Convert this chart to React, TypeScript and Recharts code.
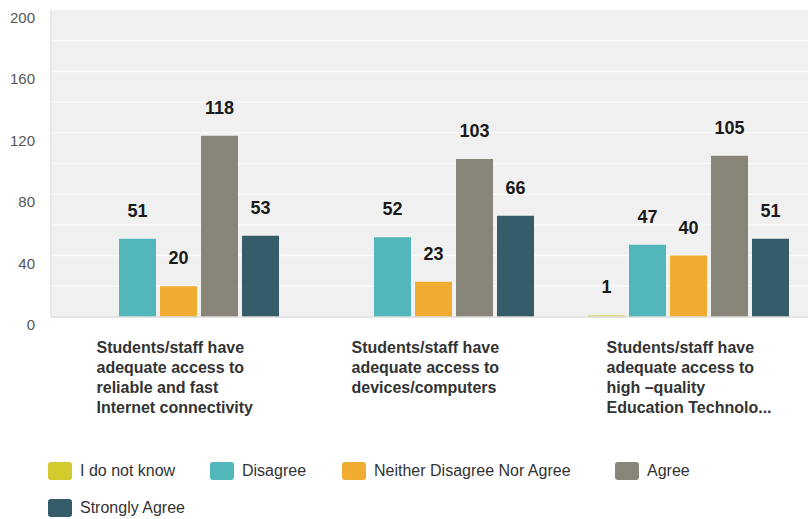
import React from "react";
import { Bar, BarChart, CartesianGrid, LabelList, XAxis, YAxis } from "recharts";

const categories = [
  "Students/staff have adequate access to reliable and fast Internet connectivity",
  "Students/staff have adequate access to devices/computers",
  "Students/staff have adequate access to high \u2013quality Education Technolo...",
];

// wrapped lines for the category labels, as they appear in the chart
const categoryLines = [
  ["Students/staff have", "adequate access to", "reliable and fast", "Internet connectivity"],
  ["Students/staff have", "adequate access to", "devices/computers"],
  ["Students/staff have", "adequate access to", "high \u2013quality", "Education Technolo..."],
];

const doNotKnow = [0, 0, 1];
const disagree = [51, 52, 47];
const neither = [20, 23, 40];
const agree = [118, 103, 105];
const stronglyAgree = [53, 66, 51];

const yTicks = [0, 20, 40, 60, 80, 100, 120, 140, 160, 180, 200];

const series = [
  { key: "doNotKnow", name: "I do not know", color: "#d2ca2c" },
  { key: "disagree", name: "Disagree", color: "#52b7bb" },
  { key: "neither", name: "Neither Disagree Nor Agree", color: "#efac30" },
  { key: "agree", name: "Agree", color: "#878577" },
  { key: "stronglyAgree", name: "Strongly Agree", color: "#345c69" },
];

const data = categories.map((name, i) => ({
  name,
  doNotKnow: doNotKnow[i],
  disagree: disagree[i],
  neither: neither[i],
  agree: agree[i],
  stronglyAgree: stronglyAgree[i],
}));

const FONT = "Liberation Sans, Arial, sans-serif";

const CategoryTick = (props: any) => {
  const { x, y, index } = props;
  const lines = categoryLines[index] || [];
  return (
    <text
      x={x - 82}
      y={y + 28}
      textAnchor="start"
      fill="#333"
      fontSize={16}
      fontWeight="bold"
      fontFamily={FONT}
    >
      {lines.map((line: string, i: number) => (
        <tspan key={i} x={x - 82} dy={i === 0 ? 0 : 20}>
          {line}
        </tspan>
      ))}
    </text>
  );
};

const ValueTick = (props: any) => {
  const { x, y, payload } = props;
  if (payload.value % 40 !== 0) return null;
  return (
    <text x={x - 8} y={y + 13} textAnchor="end" fill="#555" fontSize={15} fontFamily={FONT}>
      {payload.value}
    </text>
  );
};

const legendLefts = [48, 210, 342, 615, 48];

export default function App() {
  return (
    <div
      style={{
        position: "absolute",
        left: 0,
        top: 0,
        width: 808,
        height: 519,
        overflow: "hidden",
        background: "#fff",
        fontFamily: FONT,
      }}
    >
      <BarChart
        width={816}
        height={440}
        data={data}
        margin={{ top: 10, right: 0, left: 0, bottom: 0 }}
        barCategoryGap={27}
        barGap={4}
      >
        <CartesianGrid vertical={false} fill="#f0f0f0" stroke="#fafafa" strokeWidth={1.5} />
        <XAxis
          dataKey="name"
          height={123}
          tickLine={false}
          axisLine={{ stroke: "#dcdcdc", strokeWidth: 1.5 }}
          interval={0}
          tick={<CategoryTick />}
        />
        <YAxis
          width={51}
          domain={[0, 200]}
          ticks={yTicks}
          tickLine={false}
          axisLine={{ stroke: "#e2e2e2", strokeWidth: 1.5 }}
          tick={<ValueTick />}
        />
        {series.map((s) => (
          <Bar key={s.key} dataKey={s.key} name={s.name} fill={s.color} isAnimationActive={false}>
            <LabelList
              dataKey={s.key}
              position="top"
              offset={22}
              formatter={(v: any) => (v > 0 ? v : "")}
              fill="#1a1a1a"
              fontSize={18}
              fontWeight="bold"
              fontFamily={FONT}
            />
          </Bar>
        ))}
      </BarChart>
      {series.map((s, i) => (
        <div
          key={s.key}
          style={{
            position: "absolute",
            left: legendLefts[i],
            top: i < 4 ? 462 : 499,
            display: "flex",
            alignItems: "center",
            fontSize: 16,
            color: "#333",
          }}
        >
          <span
            style={{
              display: "inline-block",
              width: 24,
              height: 18,
              borderRadius: 3,
              background: s.color,
              marginRight: 8,
            }}
          />
          {s.name}
        </div>
      ))}
    </div>
  );
}
